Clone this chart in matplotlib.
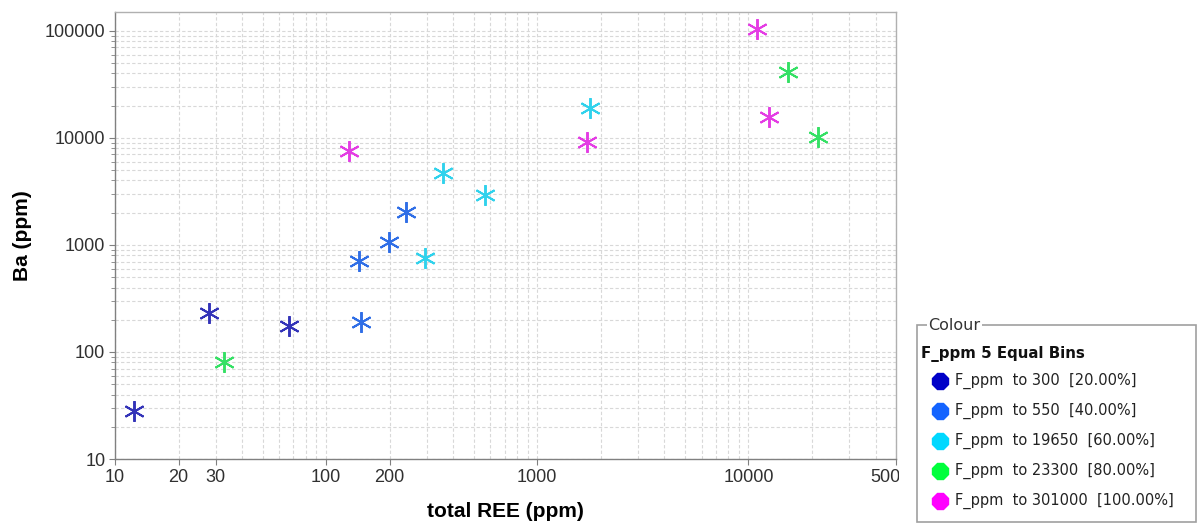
import matplotlib
matplotlib.use("Agg")
import matplotlib.pyplot as plt
from matplotlib.lines import Line2D
from matplotlib.patches import Rectangle
from matplotlib.transforms import Bbox
from matplotlib.ticker import LogLocator, FixedLocator, NullFormatter

# Samples grouped by fluorine bin
bin_labels = ["F_ppm  to 300  [20.00%]",
              "F_ppm  to 550  [40.00%]",
              "F_ppm  to 19650  [60.00%]",
              "F_ppm  to 23300  [80.00%]",
              "F_ppm  to 301000  [100.00%]"]
bin_colors = ["#0000c8", "#1464ff", "#00d8ff", "#00ff3c", "#ff00ff"]
marker_colors = ["#3333b8", "#2f6ee6", "#30d2ec", "#34e064", "#e43ce4"]

ree_bin1 = [12.3, 27.8, 67]
ba_bin1 = [28, 231, 175]
ree_bin2 = [143, 146, 198, 238]
ba_bin2 = [708, 190, 1067, 2030]
ree_bin3 = [295, 359, 567, 1780]
ba_bin3 = [757, 4710, 2930, 19000]
ree_bin4 = [33, 15400, 21300]
ba_bin4 = [80, 41400, 10200]
ree_bin5 = [128, 1720, 10960, 12500]
ba_bin5 = [7570, 9180, 104500, 15700]

ree_groups = [ree_bin1, ree_bin2, ree_bin3, ree_bin4, ree_bin5]
ba_groups = [ba_bin1, ba_bin2, ba_bin3, ba_bin4, ba_bin5]

x_ticks = [10, 20, 30, 100, 200, 1000, 10000, 50000]
y_ticks = [10, 100, 1000, 10000, 100000]

plt.rcParams['font.family'] = ['Liberation Sans Narrow', 'Liberation Sans', 'DejaVu Sans']

W, H = 1197, 525
fig = plt.figure(figsize=(W / 100, H / 100), dpi=100)
ax = fig.add_axes([115 / W, 1 - 459 / H, (896 - 115) / W, (459 - 12) / H])

for xs, ys, c in zip(ree_groups, ba_groups, marker_colors):
    ax.plot(xs, ys, linestyle="none", marker=(6, 2, 0), markersize=15,
            markeredgewidth=1.4, color=c, zorder=3)

ax.set_xscale("log")
ax.set_yscale("log")
ax.set_xlim(10, 50000)
ax.set_ylim(10, 150000)

ax.xaxis.set_major_locator(FixedLocator(x_ticks))
ax.xaxis.set_major_formatter(matplotlib.ticker.FixedFormatter([str(v) for v in x_ticks]))
ax.xaxis.set_minor_locator(LogLocator(base=10, subs=range(2, 10)))
ax.xaxis.set_minor_formatter(NullFormatter())
ax.yaxis.set_major_locator(FixedLocator(y_ticks))
ax.yaxis.set_major_formatter(matplotlib.ticker.FixedFormatter([str(v) for v in y_ticks]))
ax.yaxis.set_minor_locator(LogLocator(base=10, subs=range(2, 10)))
ax.yaxis.set_minor_formatter(NullFormatter())

ax.grid(True, which="both", linestyle=(0, (3, 2)), color="#d8d8d8", linewidth=0.8)
ax.set_axisbelow(True)

for s in ax.spines.values():
    s.set_color("#b0b0b0")
    s.set_linewidth(1.0)
ax.spines["left"].set_color("#808080")
ax.spines["bottom"].set_color("#808080")

ax.tick_params(axis="both", which="major", length=4, color="#808080",
               labelsize=13, labelcolor="#303030", pad=3)
ax.tick_params(axis="both", which="minor", length=3, color="#808080")
ax.tick_params(axis="x", which="minor", length=0)

ax.set_xlabel("total REE (ppm)", fontsize=15, fontweight="bold",
              family=["Liberation Sans", "DejaVu Sans"], labelpad=12)
ax.set_ylabel("Ba (ppm)", fontsize=15, fontweight="bold",
              family=["Liberation Sans", "DejaVu Sans"], labelpad=9)

# keep the last x tick label inside the plot panel
fig.canvas.draw()
clip = Bbox.from_extents(0, 0, 899, H)
for lbl in ax.get_xticklabels():
    lbl.set_clip_box(clip)
    lbl.set_clip_on(True)

# Colour legend panel
legend_font = ["DejaVu Sans"]
box = Rectangle((917 / W, 1 - 522 / H), (W - 1 - 917) / W, (522 - 325) / H,
                transform=fig.transFigure, fill=False, edgecolor="#a0a0a0",
                linewidth=1.2)
fig.add_artist(box)
fig.text(928 / W, 1 - 326 / H, "Colour", fontsize=11.5, color="#333333",
         va="center", ha="left", family=legend_font,
         bbox=dict(facecolor="white", edgecolor="none", pad=1))
fig.text(921 / W, 1 - 354 / H, "F_ppm 5 Equal Bins", fontsize=10.8,
         fontweight="bold", color="#111111", va="center", ha="left",
         family=legend_font)
for i, (lab, c) in enumerate(zip(bin_labels, bin_colors)):
    yy = 1 - (381 + 30 * i) / H
    fig.add_artist(Line2D([940 / W], [yy], marker="8", markersize=13,
                          color=c, linestyle="none",
                          transform=fig.transFigure))
    fig.text(955 / W, yy, lab, fontsize=10.5, color="#222222",
             va="center", ha="left", family=legend_font)

fig.savefig("out.png", dpi=100)
